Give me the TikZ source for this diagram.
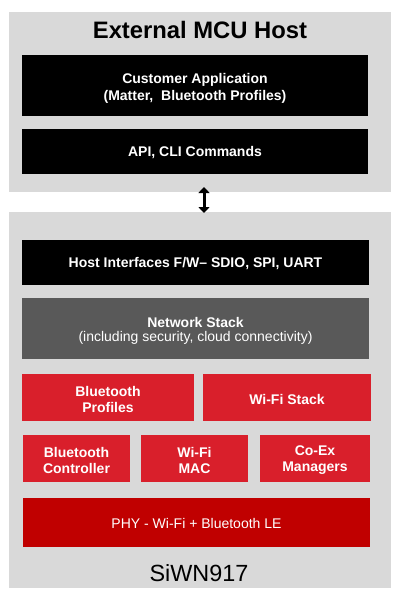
\documentclass[tikz,border=0pt]{standalone}
\usepackage{fontspec}
\setmainfont{Liberation Sans}
\usetikzlibrary{arrows.meta}
\definecolor{panelgray}{HTML}{D9D9D9}
\definecolor{stackgray}{HTML}{595959}
\definecolor{brightred}{HTML}{D91F2B}
\definecolor{darkred}{HTML}{C00000}
\tikzset{
  panel/.style={fill=panelgray, draw=none},
  blk/.style={fill=black, text=white, font=\fontsize{14}{17}\selectfont\bfseries, align=center, inner sep=0pt},
  graybox/.style={fill=stackgray, text=white, align=center, inner sep=0pt},
  redbox/.style={fill=brightred, text=white, font=\fontsize{14}{16}\selectfont\bfseries, align=center, inner sep=0pt},
  phybox/.style={fill=darkred, text=white, font=\fontsize{14}{16}\selectfont, align=center, inner sep=0pt},
}
\begin{document}
\begin{tikzpicture}[x=1pt,y=-1pt]
\useasboundingbox (0,0) rectangle (400,600);
\fill[white] (0,0) rectangle (400,600);
% panels
\node[panel, minimum width=382pt, minimum height=180pt, inner sep=0pt] (host) at (200,102) {};
\node[panel, minimum width=382pt, minimum height=376pt, inner sep=0pt] (siwn) at (200,400) {};
\node[font=\fontsize{23.8}{26}\selectfont\bfseries] (hosttitle) at (200,30) {External MCU Host};
% host blocks
\node[blk, minimum width=346pt, minimum height=61pt] (app) at (195,85.5) {};
\node[blk] (apptext) at (195,88) {Customer Application\\(Matter,\ \ Bluetooth Profiles)};
\node[blk, minimum width=346pt, minimum height=45pt] (api) at (195,151.5) {};
\node[blk] (apitext) at (195,153) {API, CLI Commands};
% arrow
\coordinate (arrtop) at (204,187);
\coordinate (arrbot) at (204,213);
\draw[{Triangle[length=6pt,width=11pt]}-{Triangle[length=6pt,width=11pt]}, line width=3pt] (arrtop) -- (arrbot);
% device blocks
\node[blk, minimum width=347pt, minimum height=45pt] (hif) at (195.5,262.5) {};
\node[blk] (hiftext) at (195.5,264) {Host Interfaces F/W-- SDIO, SPI, UART};
\node[graybox, minimum width=347pt, minimum height=61pt] (net) at (195.5,328.5) {};
\node[graybox] (nettext) at (195.5,331) {{\fontsize{14}{16.5}\selectfont\bfseries Network Stack}\\[2pt]{\fontsize{14}{16.5}\selectfont (including security, cloud connectivity)}};
\node[redbox, minimum width=172pt, minimum height=47pt] (btp) at (108,397.5) {};
\node[redbox] (btptext) at (108,399) {Bluetooth\\Profiles};
\node[redbox, minimum width=168pt, minimum height=47pt] (wfs) at (287,397.5) {};
\node[redbox] (wfstext) at (287,399) {Wi-Fi Stack};
\node[redbox, minimum width=107pt, minimum height=47pt] (btc) at (76.5,458.5) {};
\node[redbox] (btctext) at (76.5,460) {Bluetooth\\Controller};
\node[redbox, minimum width=107pt, minimum height=47pt] (mac) at (194.5,458.5) {};
\node[redbox] (mactext) at (194.5,460) {Wi-Fi\\MAC};
\node[redbox, minimum width=110pt, minimum height=47pt] (coex) at (315,458.5) {};
\node[redbox] (coextext) at (315,460) {Co-Ex\\Managers};
\node[phybox, minimum width=347pt, minimum height=49pt] (phy) at (196.5,522.5) {};
\node[phybox] (phytext) at (196.5,523.5) {PHY - Wi-Fi + Bluetooth LE};
\node[font=\fontsize{23.4}{26}\selectfont] (siwnlabel) at (199,573) {SiWN917};
\end{tikzpicture}
\end{document}
